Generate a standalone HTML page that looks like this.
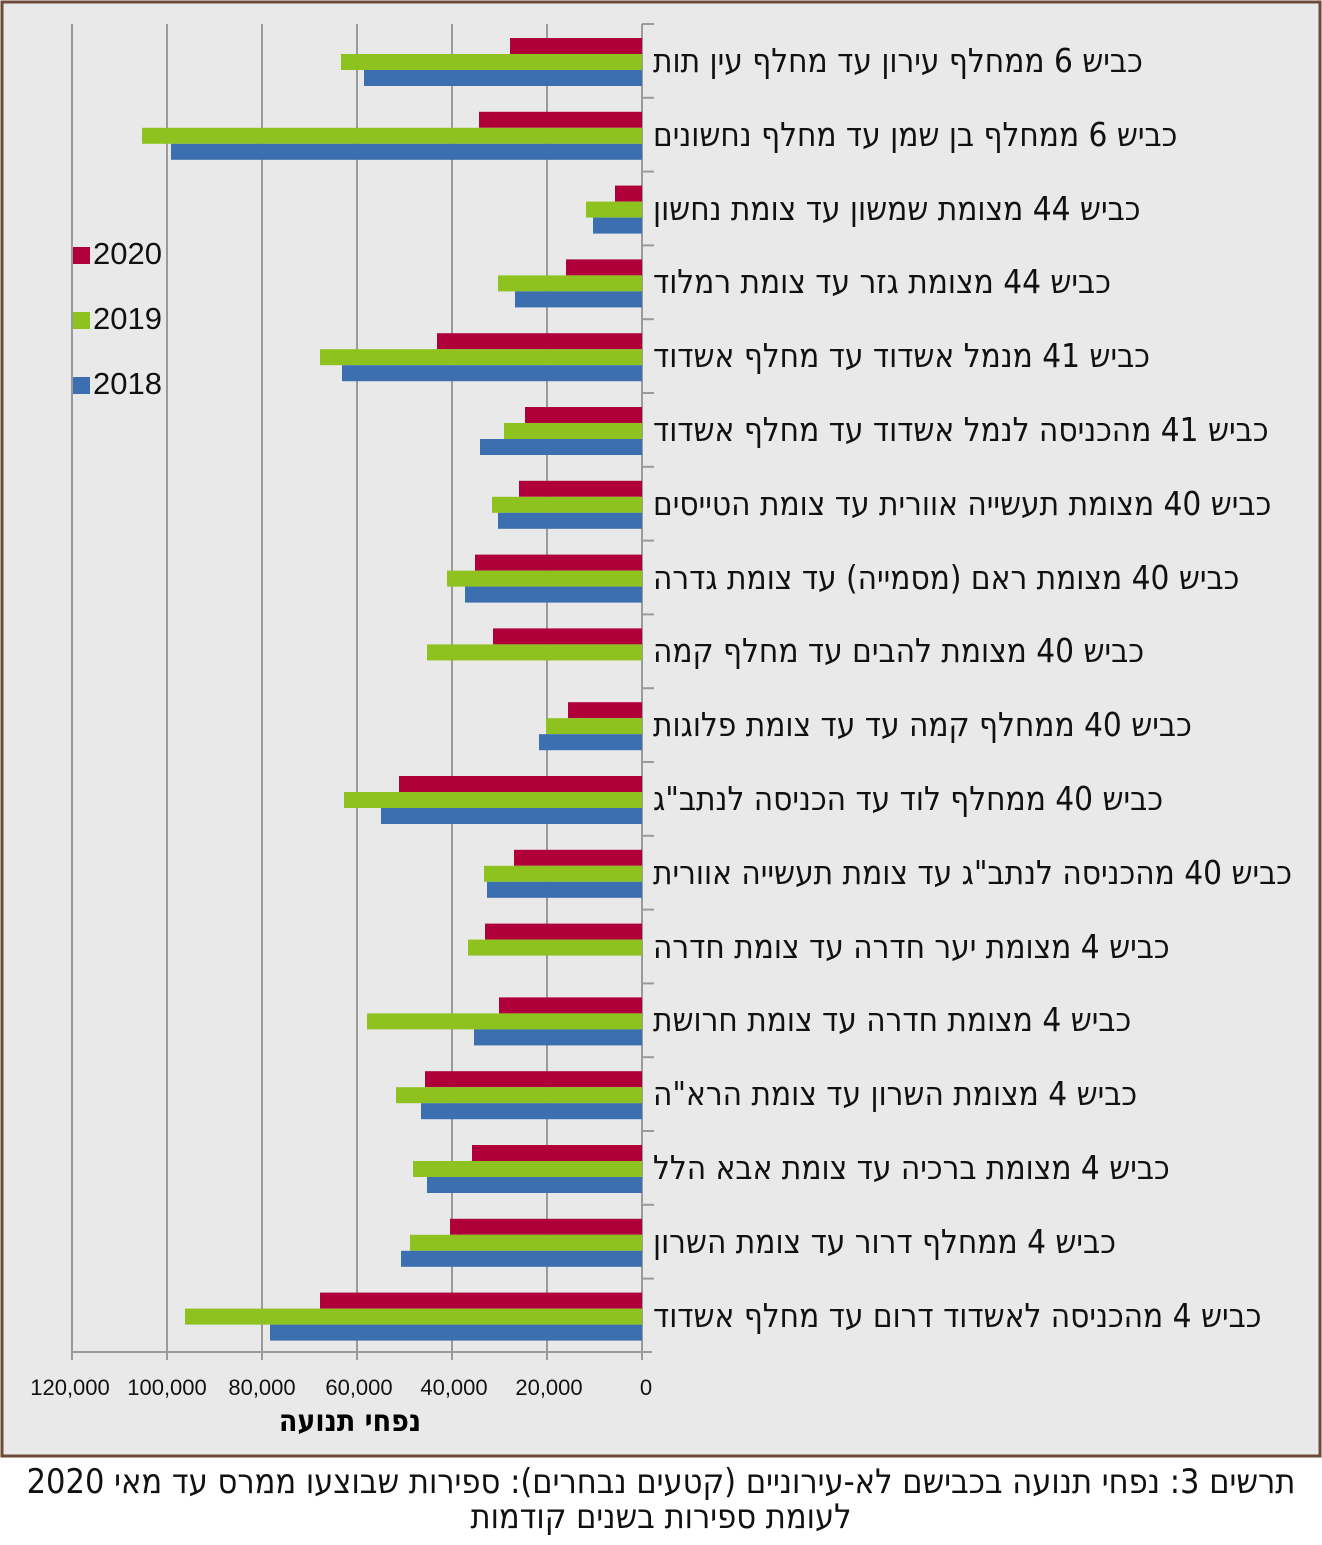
<!DOCTYPE html>
<html><head><meta charset="utf-8"><style>
html,body{margin:0;padding:0;background:#fff;}
#c{position:relative;width:1322px;height:1545px;overflow:hidden;font-family:"DejaVu Sans Condensed","DejaVu Sans",sans-serif;}
.l{position:absolute;left:653px;direction:rtl;white-space:nowrap;font-size:33px;line-height:36px;color:#111;}
.t{position:absolute;top:1375px;width:100px;text-align:center;font-size:22px;font-family:"Liberation Sans",sans-serif;color:#111;}
.lg{position:absolute;left:93px;font-size:31px;font-family:"Liberation Sans",sans-serif;color:#111;}
.sq{position:absolute;left:73px;width:17px;height:17px;}
</style></head><body><div id="c">
<svg width="1322" height="1545" style="position:absolute;left:0;top:0">
<rect x="2" y="2" width="1318" height="1454" fill="#e8e9e8" stroke="#6b4a3a" stroke-width="3"/>
<g stroke="#9a9a9a" stroke-width="2">
<line x1="72" y1="24" x2="72" y2="1360"/><line x1="167" y1="24" x2="167" y2="1360"/>
<line x1="262" y1="24" x2="262" y2="1360"/><line x1="357" y1="24" x2="357" y2="1360"/>
<line x1="452" y1="24" x2="452" y2="1360"/><line x1="547" y1="24" x2="547" y2="1360"/>
<line x1="642" y1="24" x2="642" y2="1360"/>
<line x1="72" y1="1352" x2="652" y2="1352"/>
</g>
<g id="bars"></g>
</svg>
<div id="labels"></div>
<div class="sq" style="top:247px;background:#b0003a"></div><div class="lg" style="top:236px">2020</div>
<div class="sq" style="top:312px;background:#8dc21f"></div><div class="lg" style="top:301px">2019</div>
<div class="sq" style="top:377px;background:#3b6fb0"></div><div class="lg" style="top:366px">2018</div>
<div class="t" style="left:20px">120,000</div><div class="t" style="left:117px">100,000</div>
<div class="t" style="left:212px">80,000</div><div class="t" style="left:309px">60,000</div>
<div class="t" style="left:404px">40,000</div><div class="t" style="left:499px">20,000</div>
<div class="t" style="left:596px">0</div>
<div style="position:absolute;left:200px;width:300px;top:1404px;text-align:center;direction:rtl;font-weight:bold;font-size:30px">נפחי תנועה</div>
<div style="position:absolute;left:0;width:1322px;top:1465px;text-align:center;direction:rtl;font-size:34px;line-height:35px;color:#111">תרשים 3: נפחי תנועה בכבישם לא-עירוניים (קטעים נבחרים): ספירות שבוצעו ממרס עד מאי 2020<br>לעומת ספירות בשנים קודמות</div>
</div>
<script>
var d=[
["כביש 6 ממחלף עירון עד מחלף עין תות",510,341,364],
["כביש 6 ממחלף בן שמן עד מחלף נחשונים",479,142,171],
["כביש 44 מצומת שמשון עד צומת נחשון",615,586,593],
["כביש 44 מצומת גזר עד צומת רמלוד",566,498,515],
["כביש 41 מנמל אשדוד עד מחלף אשדוד",437,320,342],
["כביש 41 מהכניסה לנמל אשדוד עד מחלף אשדוד",525,504,480],
["כביש 40 מצומת תעשייה אוורית עד צומת הטייסים",519,492,498],
["כביש 40 מצומת ראם (מסמייה) עד צומת גדרה",475,447,465],
["כביש 40 מצומת להבים עד מחלף קמה",493,427,null],
["כביש 40 ממחלף קמה עד עד צומת פלוגות",568,546,539],
["כביש 40 ממחלף לוד עד הכניסה לנתב\"ג",399,344,381],
["כביש 40 מהכניסה לנתב\"ג עד צומת תעשייה אוורית",514,484,487],
["כביש 4 מצומת יער חדרה עד צומת חדרה",485,468,null],
["כביש 4 מצומת חדרה עד צומת חרושת",499,367,474],
["כביש 4 מצומת השרון עד צומת הרא\"ה",425,396,421],
["כביש 4 מצומת ברכיה עד צומת אבא הלל",472,413,427],
["כביש 4 ממחלף דרור עד צומת השרון",450,410,401],
["כביש 4 מהכניסה לאשדוד דרום עד מחלף אשדוד",320,185,270]];
var g='',h='',cols=['#b0003a','#8dc21f','#3b6fb0'];
for(var i=0;i<d.length;i++){var yy=24+i*73.8;
for(var k=0;k<3;k++){var x=d[i][k+1];if(x==null)continue;
g+='<rect x="'+x+'" y="'+(yy+14+k*16)+'" width="'+(642-x)+'" height="16" fill="'+cols[k]+'"/>';}
g+='<line x1="642" y1="'+yy+'" x2="654" y2="'+yy+'" stroke="#9a9a9a" stroke-width="2"/>';
h+='<div class="l" style="top:'+(yy+19)+'px">'+d[i][0]+'</div>';}
document.getElementById('bars').innerHTML=g;
document.getElementById('labels').innerHTML=h;
</script>
</body></html>
